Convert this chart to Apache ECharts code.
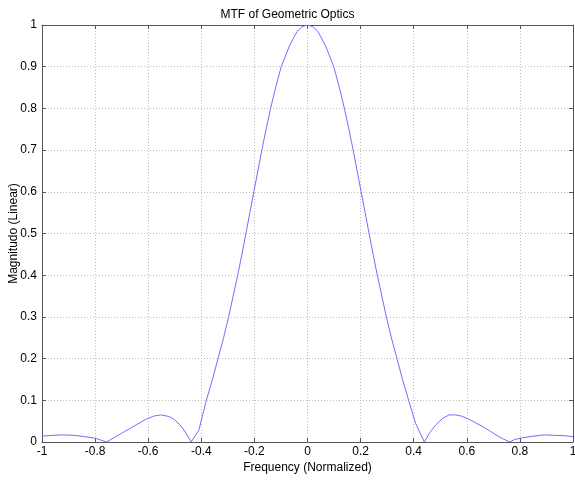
<!DOCTYPE html>
<html>
<head>
<meta charset="utf-8">
<script src="https://cdn.jsdelivr.net/npm/echarts@6/dist/echarts.min.js"></script>
<style>
  html, body { margin: 0; padding: 0; background: #fff; }
  #chart { width: 575px; height: 482px; }
</style>
</head>
<body>
<div id="chart"></div>
<script>
// values
var freq = [-1.00, -0.96, -0.92, -0.88, -0.84, -0.80, -0.78, -0.757,
  -0.73, -0.70, -0.67, -0.64, -0.61, -0.58, -0.553, -0.52, -0.50, -0.48, -0.46, -0.438,
  -0.409, -0.381, -0.358, -0.337, -0.316, -0.297, -0.280, -0.263, -0.247, -0.232, -0.217, -0.202,
  -0.187, -0.172, -0.156, -0.139, -0.12, -0.099, -0.068, -0.04, -0.02, 0,
  0.02, 0.04, 0.068, 0.099, 0.12, 0.139, 0.156, 0.172, 0.187, 0.202, 0.217, 0.232, 0.247, 0.263,
  0.280, 0.297, 0.316, 0.337, 0.358, 0.381, 0.407, 0.44,
  0.46, 0.483, 0.51, 0.533, 0.558, 0.58, 0.60, 0.63, 0.66, 0.69, 0.71, 0.735, 0.762,
  0.78, 0.81, 0.85, 0.89, 0.93, 0.97, 1.00];
var magnitude = [0.014, 0.016, 0.017, 0.016, 0.013, 0.009, 0.005, 0.0,
  0.010, 0.021, 0.032, 0.043, 0.054, 0.062, 0.065, 0.061, 0.053, 0.041, 0.024, 0.0,
  0.029, 0.1, 0.15, 0.2, 0.25, 0.3, 0.35, 0.4, 0.45, 0.5, 0.55, 0.6,
  0.65, 0.7, 0.75, 0.8, 0.85, 0.9, 0.95, 0.984, 0.996, 1.0,
  0.996, 0.984, 0.95, 0.9, 0.85, 0.8, 0.75, 0.7, 0.65, 0.6, 0.55, 0.5, 0.45, 0.4,
  0.35, 0.3, 0.25, 0.2, 0.15, 0.1, 0.045, 0.0,
  0.022, 0.041, 0.057, 0.065, 0.065, 0.062, 0.057, 0.047, 0.037, 0.025, 0.017, 0.008, 0.0,
  0.006, 0.010, 0.014, 0.017, 0.016, 0.015, 0.013];
var xTicks = { min: -1, max: 1, step: 0.2 };
var yTicks = { min: 0, max: 1, step: 0.1 };

var points = freq.map(function (f, i) { return [f, magnitude[i]]; });
var font = 'Liberation Sans, Arial, sans-serif';

var gridLine = { show: true, lineStyle: { color: '#bdbdbd', type: [1, 2], width: 1 } };
var boxLine = { show: true, onZero: false, lineStyle: { color: '#555', width: 1 } };
var tickIn = { show: true, inside: true, length: 4, lineStyle: { color: '#555' } };

function fmt(v) {
    return String(Math.round(v * 10) / 10);
}

var chart = echarts.init(document.getElementById('chart'));
chart.setOption({
    animation: false,
    title: {
        text: 'MTF of Geometric Optics',
        left: 'center',
        top: 4,
        textStyle: { fontFamily: font, fontSize: 12, fontWeight: 'normal', color: '#000' }
    },
    grid: { left: 42, right: 2, top: 25, bottom: 40, containLabel: false, outerBoundsMode: 'none' },
    xAxis: [{
        type: 'value',
        min: xTicks.min, max: xTicks.max, interval: xTicks.step,
        name: 'Frequency (Normalized)',
        nameLocation: 'middle',
        nameGap: 20,
        nameMoveOverlap: false,
        nameTextStyle: { fontFamily: font, fontSize: 12, color: '#000' },
        axisLine: boxLine,
        axisTick: tickIn,
        axisLabel: { fontFamily: font, fontSize: 12, color: '#000', margin: 4, formatter: fmt },
        splitLine: gridLine
    }, {
        type: 'value', position: 'top',
        min: xTicks.min, max: xTicks.max, interval: xTicks.step,
        axisLine: boxLine, axisTick: tickIn,
        axisLabel: { show: false }, splitLine: { show: false }
    }],
    yAxis: [{
        type: 'value',
        min: yTicks.min, max: yTicks.max, interval: yTicks.step,
        name: 'Magnitudo (Linear)',
        nameLocation: 'middle',
        nameGap: 22,
        nameMoveOverlap: false,
        nameTextStyle: { fontFamily: font, fontSize: 12, color: '#000' },
        axisLine: boxLine,
        axisTick: tickIn,
        axisLabel: { fontFamily: font, fontSize: 12, color: '#000', margin: 5, formatter: fmt },
        splitLine: gridLine
    }, {
        type: 'value', position: 'right',
        min: yTicks.min, max: yTicks.max, interval: yTicks.step,
        axisLine: boxLine, axisTick: tickIn,
        axisLabel: { show: false }, splitLine: { show: false }
    }],
    series: [{
        type: 'line',
        data: points,
        showSymbol: false,
        smooth: false,
        lineStyle: { color: '#6f6fff', width: 1 }
    }]
});
</script>
</body>
</html>
